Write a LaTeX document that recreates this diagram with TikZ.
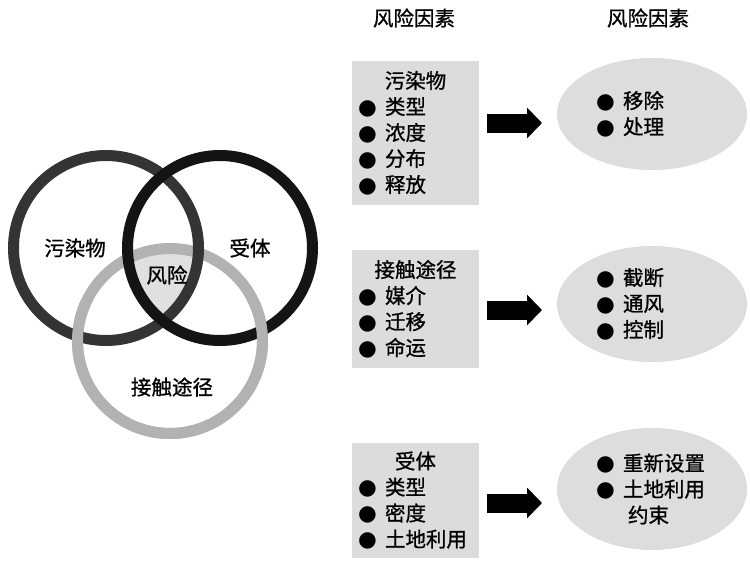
\documentclass[tikz,border=0pt]{standalone}
\usepackage{fontspec}
\setmainfont{Noto Sans CJK SC}[FakeBold=0.9]
\newfontfamily\dejavu{DejaVu Sans}
\usetikzlibrary{shapes.geometric,arrows.meta,calc}
\definecolor{boxgray}{HTML}{DCDCDC}
\definecolor{ellgray}{HTML}{DDDDDD}
\definecolor{riskgray}{HTML}{E0E0E0}
\definecolor{ringA}{HTML}{343434}
\definecolor{ringB}{HTML}{141414}
\definecolor{ringC}{HTML}{B2B2B2}
\newcommand\bul{\makebox[27pt][l]{\dejavu\fontsize{21.5}{21.5}\selectfont ●}}
\tikzset{
  ringa/.style={draw=ringA, line width=11pt},
  ringb/.style={draw=ringB, line width=11pt},
  ringc/.style={draw=ringC, line width=11pt},
  factorbox/.style={rectangle, fill=boxgray, minimum width=127pt, text width=115pt,
    inner xsep=6pt, inner ysep=0pt, align=left},
  solbox/.style={ellipse, fill=ellgray, minimum width=190pt, inner sep=0pt,
    text width=112pt, align=left},
  blockarrow/.style={line width=19pt, -{Triangle[width=30pt,length=15pt]}, black},
  lbl/.style={inner sep=0pt}
}
\begin{document}
\begin{tikzpicture}[x=1pt,y=-1pt,font=\fontsize{20.5}{26}\selectfont]
\useasboundingbox (0,0) rectangle (750,560);
% Venn circles
\coordinate (c1) at (106,248);
\coordinate (c2) at (220,248);
\coordinate (c3) at (170,341);
\begin{scope}
  \clip (c1) circle[radius=92.5pt];
  \clip (c2) circle[radius=92.5pt];
  \fill[riskgray] (c3) circle[radius=92.5pt];
\end{scope}
\draw[ringc] (c3) circle[radius=92.5pt];
\draw[ringa] (c1) circle[radius=92.5pt];
\draw[ringb] (c2) circle[radius=92.5pt];
\begin{scope}
  \clip (0,300) rectangle (340,560);
  \draw[ringc] (c3) circle[radius=92.5pt];
\end{scope}
\node[lbl] (l1) at (75,248) {污染物};
\node[lbl] (l2) at (250,248) {受体};
\node[lbl] (l3) at (167,275) {风险};
\node[lbl] (l4) at (172,387) {接触途径};
% headers
\node[lbl] (h1) at (414,18) {风险因素};
\node[lbl] (h2) at (648,18) {风险因素};
% boxes
\node[factorbox, minimum height=144pt] (b1) at (415.5,133)
  {\makebox[115pt]{污染物}\\ \bul 类型\\ \bul 浓度\\ \bul 分布\\ \bul 释放};
\node[factorbox, minimum height=118pt] (b2) at (415.5,309)
  {\makebox[115pt]{接触途径}\\ \bul 媒介\\ \bul 迁移\\ \bul 命运};
\node[factorbox, minimum height=115pt] (b3) at (415.5,500.5)
  {\makebox[115pt]{受体}\\ \bul 类型\\ \bul 密度\\ \bul 土地利用};
% ellipses
\node[solbox, minimum height=112pt] (e1) at (652,114)
  {\bul 移除\\ \bul 处理};
\node[solbox, minimum height=116pt] (e2) at (652,304)
  {\bul 截断\\ \bul 通风\\ \bul 控制};
\node[solbox, minimum height=122pt] (e3) at (652,489)
  {\bul 重新设置\\ \bul 土地利用\\ \hspace*{32pt}约束};
% block arrows
\coordinate (a1s) at (487,123); \coordinate (a1e) at (542,123);
\coordinate (a2s) at (487,310); \coordinate (a2e) at (542,310);
\coordinate (a3s) at (487,503); \coordinate (a3e) at (542,503);
\draw[blockarrow] (a1s) -- (a1e);
\draw[blockarrow] (a2s) -- (a2e);
\draw[blockarrow] (a3s) -- (a3e);
\end{tikzpicture}
\end{document}
